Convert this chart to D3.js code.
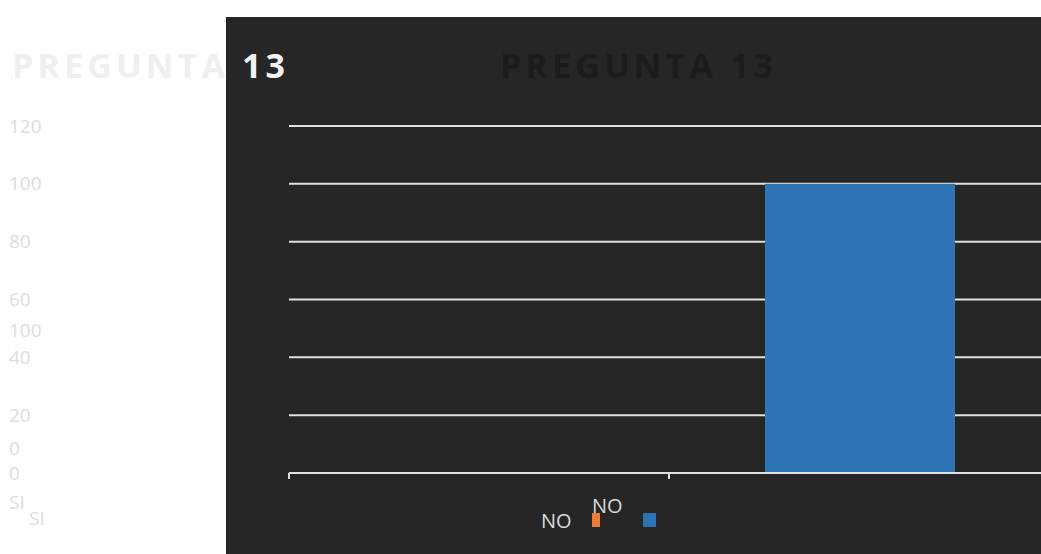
<!DOCTYPE html>
<meta charset="utf-8">
<head>
<style>
  body { margin: 0; background: #fff; }
  text { font-family: "Open Sans", "Noto Sans", sans-serif; }
</style>
</head>
<body>
<script src="https://cdn.jsdelivr.net/npm/d3@7/dist/d3.min.js"></script>
<script>

// data
var categories = ["SI", "NO"];
var values = [0, 100];
var yTicks = [0, 20, 40, 60, 80, 100, 120];
var title = "PREGUNTA 13";

var W = 1041, H = 554;
var panel = {x: 226, y: 17};
var plot = {left: 289, right: 1049, top: 126, bottom: 473};

var svg = d3.select("body").append("svg")
    .attr("width", W)
    .attr("height", H);

svg.append("rect").attr("width", W).attr("height", H).attr("fill", "#fff");

var x = d3.scaleBand()
    .domain(categories)
    .range([plot.left, plot.right]);

var y = d3.scaleLinear()
    .domain([0, 120])
    .range([plot.bottom, plot.top]);

// ghost copy of the title and axis that sits behind the dark panel
var ghost = svg.append("g").attr("fill", "#ececec");

function titleText(sel, x0, color) {
  return sel.append("text")
    .attr("x", x0).attr("y", 78)
    .attr("font-size", 34).attr("font-weight", 700)
    .attr("textLength", 273).attr("lengthAdjust", "spacing")
    .attr("fill", color)
    .text(title);
}

titleText(ghost, 12, "#efefef");

ghost.selectAll(".gtick")
    .data(yTicks)
    .enter().append("text")
    .attr("class", "gtick")
    .attr("x", 9)
    .attr("y", function(d) { return y(d); })
    .attr("dy", "0.35em")
    .attr("font-size", 19)
    .attr("fill", "#dcdcdc")
    .text(function(d) { return d; });

// stray duplicate labels
var strays = [
  {t: values[1], y: 330, x: 9},
  {t: values[0], y: 448, x: 9},
  {t: categories[0], y: 502, x: 9},
  {t: categories[0], y: 518, x: 29}
];
ghost.selectAll(".stray")
    .data(strays)
    .enter().append("text")
    .attr("class", "stray")
    .attr("x", function(d) { return d.x; })
    .attr("y", function(d) { return d.y; })
    .attr("dy", "0.35em")
    .attr("font-size", 19)
    .attr("fill", "#dcdcdc")
    .text(function(d) { return d.t; });

// dark chart panel
svg.append("rect")
    .attr("x", panel.x).attr("y", panel.y)
    .attr("width", W - panel.x).attr("height", H - panel.y)
    .attr("fill", "#262626");

// the part of the ghost title that overlaps the panel shows up light
svg.append("clipPath").attr("id", "pclip")
  .append("rect")
    .attr("x", panel.x).attr("y", panel.y)
    .attr("width", W - panel.x).attr("height", H - panel.y);

titleText(svg.append("g").attr("clip-path", "url(#pclip)"), 12, "#f2f2f2");

// inner title (almost invisible)
titleText(svg, 500, "#1c1c1c");

// gridlines
svg.selectAll(".grid")
    .data(yTicks.filter(function(d) { return d > 0; }))
    .enter().append("line")
    .attr("class", "grid")
    .attr("x1", plot.left).attr("x2", W)
    .attr("y1", function(d) { return y(d); })
    .attr("y2", function(d) { return y(d); })
    .attr("stroke", "#e0e0e0")
    .attr("stroke-width", 2);

// bars
svg.selectAll(".bar")
    .data(categories)
    .enter().append("rect")
    .attr("class", "bar")
    .attr("x", function(d) { return x(d) + x.bandwidth() * 0.25 + 1; })
    .attr("width", x.bandwidth() * 0.5)
    .attr("y", function(d, i) { return y(values[i]); })
    .attr("height", function(d, i) { return y(0) - y(values[i]); })
    .attr("fill", "#2e75b6");

// x axis with ticks on band edges
var ax = svg.append("g").attr("stroke", "#e0e0e0").attr("stroke-width", 2);
ax.append("line")
    .attr("x1", plot.left).attr("x2", W)
    .attr("y1", y(0)).attr("y2", y(0));
ax.selectAll(".tick")
    .data(categories.concat(["end"]))
    .enter().append("line")
    .attr("x1", function(d, i) { return i < categories.length ? x(d) : plot.right; })
    .attr("x2", function(d, i) { return i < categories.length ? x(d) : plot.right; })
    .attr("y1", y(0)).attr("y2", y(0) + 6);

// legend
var lg = svg.append("g").attr("font-size", 20).attr("fill", "#d9d9d9");
lg.append("text").attr("x", 541).attr("y", 528).text(categories[1]);
lg.append("rect").attr("x", 592).attr("y", 513).attr("width", 8).attr("height", 14).attr("fill", "#ed7d31");
lg.append("text").attr("x", 592).attr("y", 513).text(categories[1]);
lg.append("rect").attr("x", 643).attr("y", 513).attr("width", 13).attr("height", 14).attr("fill", "#2e75b6");

</script>
</body>
